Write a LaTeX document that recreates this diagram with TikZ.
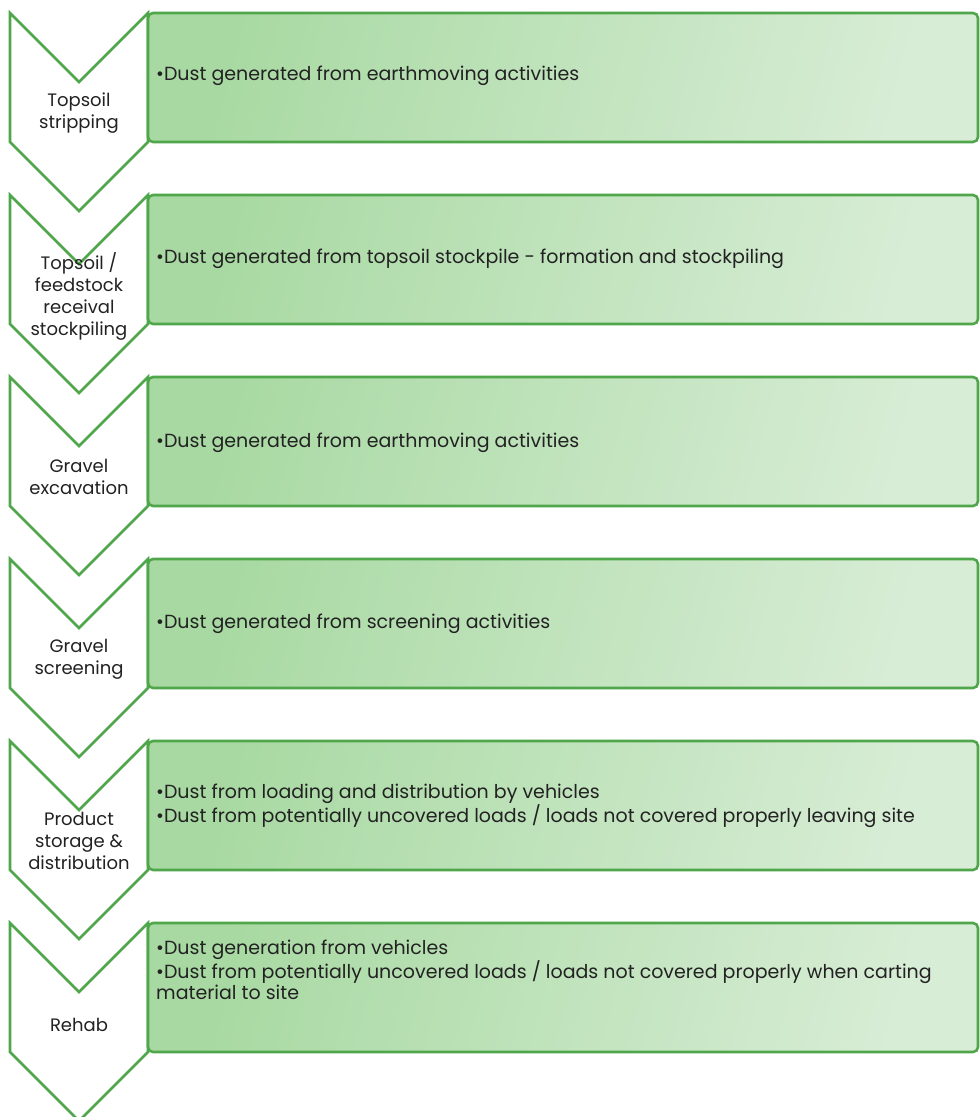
\documentclass[tikz,border=0pt]{standalone}
\usepackage{fontspec}
\setmainfont{Poppins}
\definecolor{gborder}{HTML}{4FA64B}
\definecolor{gdark}{HTML}{A8D9A2}
\definecolor{glight}{HTML}{D8EDD6}
\definecolor{txt}{HTML}{222222}
\begin{document}
\begin{tikzpicture}[x=1pt,y=-1pt,
  chev/.style={draw=gborder,line width=2.6pt,fill=white,line join=miter},
  box/.style={draw=gborder,line width=2.6pt,rounded corners=5pt,left color=gdark,right color=glight,shading angle=75,minimum width=830pt,minimum height=129pt,anchor=north west,inner sep=0pt,outer sep=0pt},
  ctext/.style={align=center,font=\fontsize{18}{22}\selectfont,text=txt,inner sep=0pt},
  btext/.style={align=left,font=\fontsize{19}{20.5}\selectfont,text=txt,inner sep=0pt,anchor=west}]
\useasboundingbox (0,0) rectangle (980,1117);
\fill[white] (0,0) rectangle (980,1117);
% chevrons
\foreach \i/\t in {0/13,1/195,2/377,3/559,4/741,5/923}{
  \draw[chev] (10,\t) -- (79,\t+69) -- (148,\t) -- (148,\t+129) -- (79,\t+198) -- (10,\t+129) -- cycle;
}
% boxes
\node[box] (b1) at (148,13) {};
\node[box] (b2) at (148,195) {};
\node[box] (b3) at (148,377) {};
\node[box] (b4) at (148,559) {};
\node[box] (b5) at (148,741) {};
\node[box] (b6) at (148,923) {};
% chevron labels
\node[ctext] (c1) at (79,113) {Topsoil\\stripping};
\node[ctext] (c2) at (79,296) {Topsoil /\\feedstock\\receival\\stockpiling};
\node[ctext] (c3) at (79,477) {Gravel\\excavation};
\node[ctext] (c4) at (79,659) {Gravel\\screening};
\node[ctext] (c5) at (79,841) {Product\\storage \&\\distribution};
\node[ctext] (c6) at (79,1025) {Rehab};
% box texts
\node[btext] (t1) at (156,76) {•Dust generated from earthmoving activities};
\node[btext] (t2) at (156,259) {•Dust generated from topsoil stockpile - formation and stockpiling};
\node[btext] (t3) at (156,443) {•Dust generated from earthmoving activities};
\node[btext] (t4) at (156,624) {•Dust generated from screening activities};
\node[btext] (t5) at (156,806) {•Dust from loading and distribution by vehicles\\•Dust from potentially uncovered loads / loads not covered properly leaving site};
\node[btext] (t6) at (156,970) {•Dust generation from vehicles\\•Dust from potentially uncovered loads / loads not covered properly when carting\\material to site};
\end{tikzpicture}
\end{document}
